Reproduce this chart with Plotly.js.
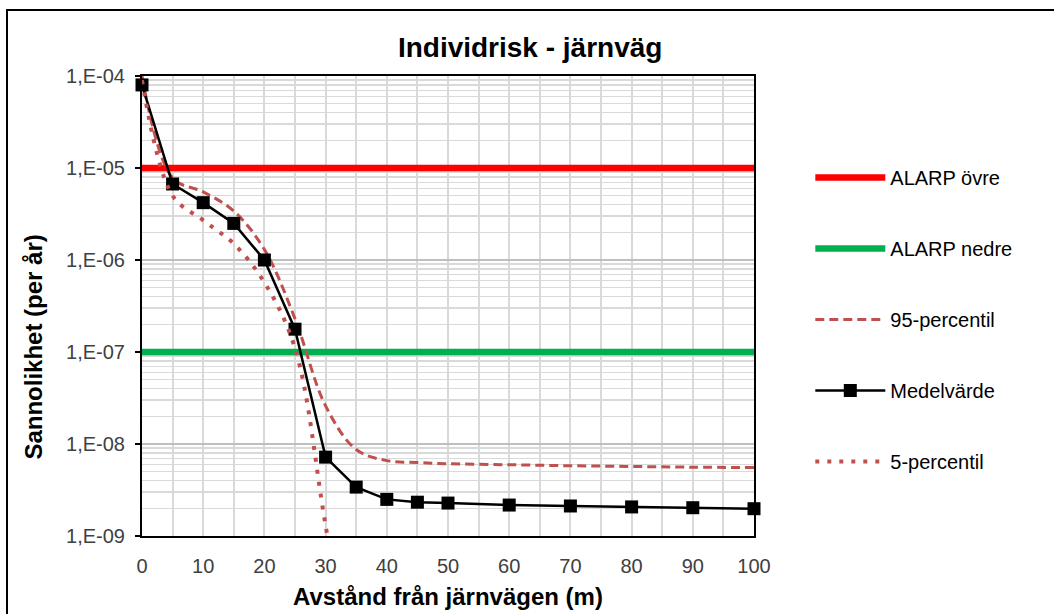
<!DOCTYPE html>
<html><head><meta charset="utf-8">
<script src="https://cdn.plot.ly/plotly-3.0.1.min.js"></script>
<style>
html,body{margin:0;padding:0;overflow:hidden;background:#fff}
#chart{position:absolute;left:0;top:0;width:1054px;height:614px}
#frame{position:absolute;left:6px;top:9px;width:2000px;height:2000px;border-left:2.5px solid #000;border-top:2.5px solid #000;pointer-events:none}
</style></head><body>
<div id="chart"></div><div id="frame"></div>
<script>
// Distance from railway (m)
const distance = [0, 5, 10, 15, 20, 25, 30, 35, 40, 45, 50, 60, 70, 80, 90, 100];
// Mean value
const medelvarde = [8.0e-5, 6.7e-6, 4.2e-6, 2.5e-6, 1.0e-6, 1.77e-7, 7.2e-9, 3.4e-9, 2.5e-9, 2.33e-9, 2.28e-9, 2.17e-9, 2.12e-9, 2.07e-9, 2.03e-9, 1.98e-9];
// 95th percentile
const p95 = [1.0e-4, 7.8e-6, 5.5e-6, 3.4e-6, 1.3e-6, 2.3e-7, 2.6e-8, 8.7e-9, 6.6e-9, 6.3e-9, 6.1e-9, 5.95e-9, 5.8e-9, 5.7e-9, 5.6e-9, 5.55e-9];
// 5th percentile (below the axis range beyond ~31 m)
const p5 = [9.0e-5, 5.0e-6, 2.7e-6, 1.5e-6, 5.7e-7, 1.1e-7, 1.3e-9, 1.5e-11, null, null, null, null, null, null, null, null];
// ALARP limits
const alarpX = [0, 100];
const alarpOvre = [1e-5, 1e-5];
const alarpNedre = [1e-7, 1e-7];
// Y tick labels
const yTickVals = [1e-9, 1e-8, 1e-7, 1e-6, 1e-5, 1e-4];
const yTickText = ['1,E-09', '1,E-08', '1,E-07', '1,E-06', '1,E-05', '1,E-04'];

const pctColor = '#c0504d';
const traces = [
  {x: alarpX, y: alarpOvre, name: 'ALARP övre', mode: 'lines', legendgroup: 'a',
   line: {color: '#ff0000', width: 6.5}},
  {x: alarpX, y: alarpNedre, name: 'ALARP nedre', mode: 'lines', legendgroup: 'b',
   line: {color: '#00b050', width: 6.5}},
  {x: distance, y: p95, name: '95-percentil', mode: 'lines', legendgroup: 'c',
   line: {color: pctColor, width: 3, dash: '9px,5px', shape: 'spline', smoothing: 1}},
  {x: distance, y: medelvarde, name: 'Medelvärde', mode: 'lines+markers', legendgroup: 'd',
   cliponaxis: false,
   line: {color: '#000000', width: 2.5},
   marker: {symbol: 'square', size: 13, color: '#000000'}},
  {x: distance, y: p5, name: '5-percentil', mode: 'lines', legendgroup: 'e',
   line: {color: pctColor, width: 4, dash: '4px,8px', shape: 'spline', smoothing: 1}}
];

const fontFam = '"Liberation Sans", Arial, sans-serif';
const layout = {
  width: 1054, height: 614,
  paper_bgcolor: '#ffffff', plot_bgcolor: '#ffffff',
  margin: {l: 142, r: 300, t: 76, b: 78},
  font: {family: fontFam, size: 20, color: '#404040'},
  title: {text: '<b>Individrisk - järnväg</b>', font: {family: fontFam, size: 28, color: '#000'},
          x: 0.503, xref: 'container', xanchor: 'center', y: 0.923, yref: 'container', yanchor: 'middle'},
  showlegend: true,
  legend: {x: 1.092, xanchor: 'left', y: 0.822, yanchor: 'top', tracegroupgap: 42,
           itemwidth: 70, font: {family: fontFam, size: 20, color: '#000'}, bgcolor: 'rgba(0,0,0,0)'},
  xaxis: {
    range: [0, 100], dtick: 10, tick0: 0,
    showline: true, linecolor: '#000', linewidth: 2, mirror: true,
    showgrid: true, gridcolor: '#d9d9d9', gridwidth: 2,
    minor: {dtick: 5, showgrid: true, gridcolor: '#d9d9d9', gridwidth: 2},
    ticks: '', ticklabelstandoff: 11,
    tickfont: {family: fontFam, size: 20, color: '#404040'},
    zeroline: false,
    title: {text: '<b>Avstånd från järnvägen (m)</b>', font: {family: fontFam, size: 24, color: '#000'}, standoff: 12}
  },
  yaxis: {
    type: 'log', range: [-9, -4],
    tickmode: 'array', tickvals: yTickVals, ticktext: yTickText,
    showline: true, linecolor: '#000', linewidth: 2, mirror: true,
    showgrid: true, gridcolor: '#bfbfbf', gridwidth: 1.5,
    minor: {dtick: 'D1', showgrid: true, gridcolor: '#d9d9d9', gridwidth: 1.5},
    ticks: 'outside', ticklen: 5, tickcolor: '#000', tickwidth: 1.5, ticklabelstandoff: 6,
    tickfont: {family: fontFam, size: 20, color: '#404040'},
    zeroline: false
  },
  annotations: [{
    text: '<b>Sannolikhet (per år)</b>', textangle: -90, showarrow: false,
    xref: 'paper', yref: 'paper', x: -0.177, y: 0.411, xanchor: 'center', yanchor: 'middle',
    font: {family: fontFam, size: 24, color: '#000'}
  }]
};

Plotly.newPlot('chart', traces, layout, {displayModeBar: false, staticPlot: true});
</script>
</body></html>
